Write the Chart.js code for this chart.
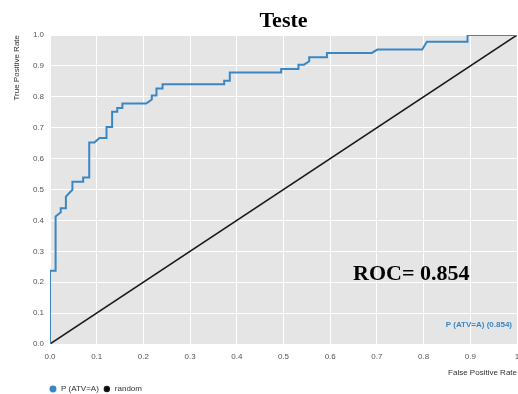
<!DOCTYPE html>
<html>
<head>
<meta charset="utf-8">
<script src="https://cdn.jsdelivr.net/npm/chart.js@4/dist/chart.umd.min.js"></script>
<style>
  html, body { margin: 0; padding: 0; background: #ffffff; }
  #wrap { width: 518px; height: 394px; }
</style>
</head>
<body>
<div id="wrap"><canvas id="c" width="518" height="394"></canvas></div>
<script>
// ---- data ----
const chartTitle = "Teste";
const rocLabel = "ROC= 0.854";
const seriesNames = ["P (ATV=A)", "random"];
const curveNote = "P (ATV=A) (0.854)";
const xAxisTitle = "False Positive Rate";
const yAxisTitle = "True Positive Rate";
const tickValues = [0, 0.1, 0.2, 0.3, 0.4, 0.5, 0.6, 0.7, 0.8, 0.9, 1];
const xTickLabels = ["0.0", "0.1", "0.2", "0.3", "0.4", "0.5", "0.6", "0.7", "0.8", "0.9", "1"];
const yTickLabels = ["0.0", "0.1", "0.2", "0.3", "0.4", "0.5", "0.6", "0.7", "0.8", "0.9", "1.0"];

const rocFpr = [0, 0, 0.012, 0.012, 0.023, 0.023, 0.034, 0.034, 0.048, 0.048, 0.071, 0.071, 0.084, 0.084,
  0.095, 0.106, 0.121, 0.121, 0.133, 0.133, 0.144, 0.144, 0.155, 0.155, 0.206, 0.218, 0.218, 0.228, 0.228,
  0.241, 0.241, 0.373, 0.373, 0.385, 0.385, 0.495, 0.495, 0.532, 0.532, 0.544, 0.555, 0.555, 0.593, 0.593,
  0.689, 0.701, 0.797, 0.807, 0.894, 0.894, 1.0];
const rocTpr = [0, 0.237, 0.237, 0.413, 0.426, 0.439, 0.439, 0.477, 0.499, 0.525, 0.525, 0.539, 0.539, 0.652,
  0.652, 0.667, 0.667, 0.702, 0.702, 0.752, 0.752, 0.764, 0.764, 0.778, 0.778, 0.791, 0.804, 0.804, 0.827,
  0.827, 0.841, 0.841, 0.852, 0.852, 0.879, 0.879, 0.890, 0.890, 0.904, 0.904, 0.915, 0.928, 0.928, 0.942,
  0.942, 0.953, 0.953, 0.978, 0.978, 1.0, 1.0];
const randomX = [0, 1];
const randomY = [0, 1];
// annotation anchor positions (data units)
const rocLabelPos = [0.649, 0.208];

// ---- styling ----
const blue = "#3a87c4";
const tickFont = { family: "'Liberation Sans', Arial, sans-serif", size: 8 };

const toPoints = (xs, ys) => xs.map((x, i) => ({ x: x, y: ys[i] }));

const bgPlugin = {
  id: "bgPlugin",
  beforeDraw(chart) {
    const a = chart.chartArea, ctx = chart.ctx;
    ctx.save();
    ctx.fillStyle = "#e5e5e5";
    ctx.fillRect(a.left, a.top, a.right - a.left, a.bottom - a.top);
    ctx.restore();
  },
  afterLayout(chart) {
    const lg = chart.legend;
    if (lg) {
      const w = lg.right - lg.left;
      const h = lg.bottom - lg.top;
      lg.left = chart.chartArea.left - 5;
      lg.right = lg.left + w;
      lg.top = lg.top + 9;
      lg.bottom = lg.top + h;
    }
  },
  afterDraw(chart) {
    const ctx = chart.ctx, a = chart.chartArea;
    const xs = chart.scales.x, ys = chart.scales.y;
    ctx.save();
    ctx.fillStyle = "#000";
    ctx.textBaseline = "alphabetic";
    ctx.textAlign = "center";
    ctx.font = "bold 22px 'Liberation Serif', 'Times New Roman', serif";
    ctx.fillText(chartTitle, (a.left + a.right) / 2, 27);
    ctx.textAlign = "left";
    ctx.fillText(rocLabel, xs.getPixelForValue(rocLabelPos[0]), ys.getPixelForValue(rocLabelPos[1]));
    ctx.fillStyle = blue;
    ctx.font = "bold 8px 'Liberation Sans', Arial, sans-serif";
    ctx.textAlign = "right";
    ctx.textBaseline = "middle";
    ctx.fillText(curveNote, a.right - 5, a.bottom - 19);
    ctx.restore();
  }
};

new Chart(document.getElementById("c"), {
  type: "line",
  data: {
    datasets: [
      {
        label: seriesNames[0],
        data: toPoints(rocFpr, rocTpr),
        borderColor: blue,
        backgroundColor: blue,
        borderWidth: 2,
        pointRadius: 0,
        tension: 0,
        fill: false
      },
      {
        label: seriesNames[1],
        data: toPoints(randomX, randomY),
        borderColor: "#1a1a1a",
        backgroundColor: "#000000",
        borderWidth: 1.5,
        pointRadius: 0,
        tension: 0,
        fill: false
      }
    ]
  },
  options: {
    responsive: false,
    animation: false,
    layout: { padding: { top: 35, left: 0, right: 0, bottom: 0 } },
    plugins: {
      title: { display: false },
      tooltip: { enabled: false },
      legend: {
        display: true,
        position: "bottom",
        align: "start",
        fullSize: false,
        labels: {
          usePointStyle: true,
          pointStyle: "circle",
          boxWidth: 8,
          boxHeight: 3.5,
          padding: 4,
          color: "#333",
          font: tickFont
        }
      }
    },
    scales: {
      x: {
        type: "linear",
        min: 0,
        max: 1,
        afterBuildTicks(scale) { scale.ticks = tickValues.map(v => ({ value: v })); },
        afterFit(scale) { scale.height = 28; scale.paddingRight = 1; scale.paddingLeft = 0; },
        ticks: {
          padding: 8,
          color: "#555",
          font: tickFont,
          maxRotation: 0,
          callback: (v, i) => xTickLabels[i]
        },
        grid: { color: "#ffffff", lineWidth: 1, drawTicks: false },
        border: { display: false },
        title: {
          display: true,
          text: xAxisTitle,
          align: "end",
          color: "#333",
          font: tickFont,
          padding: { top: 0, bottom: -6 }
        }
      },
      y: {
        type: "linear",
        min: 0,
        max: 1,
        afterBuildTicks(scale) { scale.ticks = tickValues.map(v => ({ value: v })); },
        afterFit(scale) { scale.width = 50; },
        ticks: {
          padding: 6,
          color: "#555",
          font: tickFont,
          callback: (v, i) => yTickLabels[i]
        },
        grid: { color: "#ffffff", lineWidth: 1, drawTicks: false },
        border: { display: false },
        title: {
          display: true,
          text: yAxisTitle,
          align: "end",
          color: "#333",
          font: tickFont,
          padding: { top: 12, bottom: 0 }
        }
      }
    }
  },
  plugins: [bgPlugin]
});
</script>
</body>
</html>
